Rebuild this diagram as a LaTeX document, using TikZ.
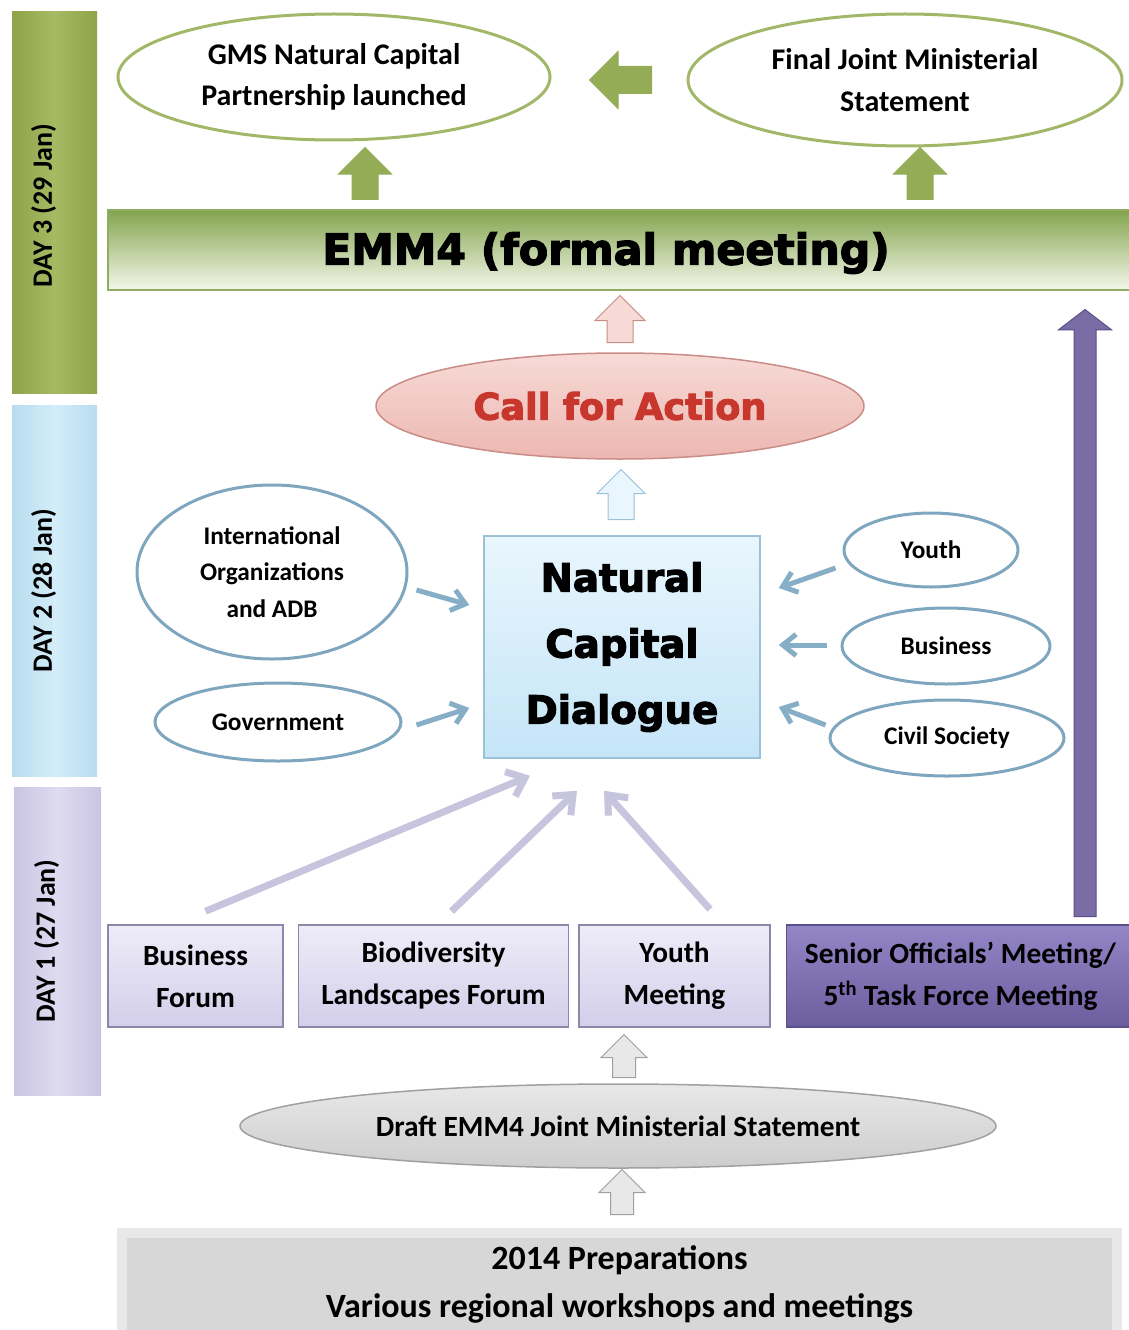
\documentclass[tikz,border=0pt]{standalone}
\usepackage{fontspec}
\setmainfont{Carlito}
\newfontfamily\heavy{DejaVu Sans}[BoldFeatures={FakeBold=3}]
\usetikzlibrary{positioning,calc,arrows.meta,shapes.geometric,shapes.arrows}

\definecolor{olivebar}{HTML}{A6BA63}
\definecolor{olivedark}{HTML}{8FA34B}
\definecolor{ellgreen}{HTML}{A2B868}
\definecolor{arrgreen}{HTML}{93AC55}
\definecolor{emmtop}{HTML}{83A44E}
\definecolor{emmbot}{HTML}{F4F7EA}
\definecolor{emmline}{HTML}{8FAE63}
\definecolor{pinktop}{HTML}{F7DAD6}
\definecolor{pinkbot}{HTML}{EDB7B1}
\definecolor{pinkline}{HTML}{C98C86}
\definecolor{callred}{HTML}{C8372D}
\definecolor{bluetop}{HTML}{E9F6FD}
\definecolor{bluebot}{HTML}{C4E5F7}
\definecolor{blueline}{HTML}{9CC0D6}
\definecolor{bluearr}{HTML}{86AEC7}
\definecolor{ellblue}{HTML}{7FA6BF}
\definecolor{daytwo}{HTML}{D3EDF9}
\definecolor{daytwodark}{HTML}{B8DCEE}
\definecolor{dayone}{HTML}{DFDBF1}
\definecolor{dayonedark}{HTML}{C9C4E2}
\definecolor{lavtop}{HTML}{EEECF8}
\definecolor{lavbot}{HTML}{D3CEEA}
\definecolor{lavline}{HTML}{8C87A8}
\definecolor{lavarr}{HTML}{C7C4DE}
\definecolor{purtop}{HTML}{9386C6}
\definecolor{purbot}{HTML}{6C5E9E}
\definecolor{purarr}{HTML}{7A6CA4}
\definecolor{purline}{HTML}{5B5088}
\definecolor{graytop}{HTML}{E8E8E8}
\definecolor{graybot}{HTML}{CDCDCD}
\definecolor{grayline}{HTML}{A0A0A0}

\def\px{0.75pt}

\begin{document}
\begin{tikzpicture}[x=\px, y=-\px,
	every node/.style={font=\bfseries},
	daybar/.style={rectangle, minimum width=85*\px, inner sep=0},
	daylabel/.style={rotate=90, font=\fontsize{21}{25}\selectfont\bfseries},
	greenell/.style={ellipse, draw=ellgreen, line width=3*\px, fill=white, align=center, inner sep=0, font=\fontsize{22.5}{31}\selectfont\bfseries},
	blueell/.style={ellipse, draw=ellblue, line width=3*\px, fill=white, align=center, inner sep=0, font=\fontsize{19}{27.5}\selectfont\bfseries},
	dbox/.style={rectangle, draw=lavline, line width=1.5*\px, top color=lavtop, bottom color=lavbot, align=center, minimum height=102*\px, inner sep=0, font=\fontsize{22}{31.5}\selectfont\bfseries},
	blockarr/.style={single arrow, anchor=tail, inner xsep=0, line width=1*\px},
	bluearrow/.style={draw=bluearr, line width=5*\px, -{Straight Barb[length=10pt, width=16pt]}},
	lavarrow/.style={draw=lavarr, line width=7*\px, -{Straight Barb[length=12pt, width=20pt]}},
	]
	\useasboundingbox (0,0) rectangle (1128,1330);
	
	\node[daybar, minimum height=381*\px, left color=olivedark, right color=olivedark, middle color=olivebar] (day3) at (54.5,202.5) {};
	\node[daybar, minimum height=371*\px, left color=daytwodark, right color=daytwodark, middle color=daytwo] (day2) at (54.5,590.5) {};
	\node[daybar, minimum height=308*\px, minimum width=87*\px, left color=dayonedark, right color=dayonedark, middle color=dayone] (day1) at (57.5,941) {};
	\node[daylabel] at ($(day3)+(-11,3)$) {DAY 3 (29 Jan)};
	\node[daylabel] at ($(day2)+(-11,0)$) {DAY 2 (28 Jan)};
	\node[daylabel] at ($(day1)+(-11,0)$) {DAY 1 (27 Jan)};
	
	\node[greenell, minimum width=432*\px, minimum height=126*\px] (gms) at (334,77) {GMS Natural Capital\\Partnership launched};
	\node[greenell, minimum width=434*\px, minimum height=132*\px] (final) at (905,80) {Final Joint Ministerial\\Statement};
	\node[blockarr, rotate=180, fill=arrgreen, draw=arrgreen, minimum height=62*\px, inner ysep=13*\px, single arrow head extend=15*\px] (gleft) at (652,80) {};
	
	\node[rectangle, draw=emmline, line width=2*\px, top color=emmtop, bottom color=emmbot, minimum width=1027*\px, minimum height=80*\px, inner sep=0] (emm) at (621.5,250) {};
	\node[font=\heavy\fontsize{32}{36}\selectfont\bfseries] (emmtext) at (606,253) {EMM4 (formal meeting)};
	\node[blockarr, rotate=90, fill=arrgreen, draw=arrgreen, minimum height=52*\px, inner ysep=12.5*\px, single arrow head extend=13.5*\px] (gup1) at (365,200) {};
	\node[blockarr, rotate=90, fill=arrgreen, draw=arrgreen, minimum height=52*\px, inner ysep=12.5*\px, single arrow head extend=13.5*\px] (gup2) at (920,200) {};
	
	\node[blockarr, rotate=90, fill=pinktop, draw=pinkline, minimum height=47*\px, inner ysep=12.5*\px, single arrow head extend=12*\px] (pup) at (620,343) {};
	\node[ellipse, draw=pinkline, line width=1.5*\px, top color=pinktop, bottom color=pinkbot, minimum width=488*\px, minimum height=106*\px, inner sep=0, text=callred, font=\heavy\fontsize{27.5}{30}\selectfont\bfseries] (call) at (620,406) {Call for Action};
	\node[blockarr, rotate=90, fill=bluetop, draw=blueline, minimum height=50*\px, inner ysep=12.5*\px, single arrow head extend=11*\px] (bup) at (621,520) {};
	
	\node[rectangle, draw=blueline, line width=1.5*\px, top color=bluetop, bottom color=bluebot, minimum width=276*\px, minimum height=222*\px, inner sep=0, align=center, font=\heavy\fontsize{29}{49.5}\selectfont\bfseries] (ncd) at (622,647) {Natural\\Capital\\Dialogue};
	
	\node[blueell, minimum width=270*\px, minimum height=174*\px] (intorg) at (272,572) {International\\Organizations\\and ADB};
	\node[blueell, minimum width=246*\px, minimum height=78*\px] (gov) at (278,722) {Government};
	\node[blueell, minimum width=174*\px, minimum height=74*\px] (youth) at (931,550) {Youth};
	\node[blueell, minimum width=208*\px, minimum height=76*\px] (bus) at (946,646) {Business};
	\node[blueell, minimum width=234*\px, minimum height=76*\px] (civ) at (947,738) {Civil Society};
	
	\draw[bluearrow] ($(intorg.east)+(8,18)$) -- ($(ncd.west)+(-14,-42)$);
	\draw[bluearrow] ($(gov.east)+(14,3)$) -- ($(ncd.west)+(-14,61)$);
	\draw[bluearrow] ($(youth.west)+(-7,18)$) -- ($(ncd.east)+(18,-59)$);
	\draw[bluearrow] ($(bus.west)+(-14,-1)$) -- ($(ncd.east)+(18,-2)$);
	\draw[bluearrow] ($(civ.west)+(-3,-13)$) -- ($(ncd.east)+(18,60)$);
	
	\node[dbox, minimum width=175*\px] (bf) at (195.5,976) {Business\\Forum};
	\node[dbox, minimum width=270*\px, right=10.5pt of bf] (blf) {Biodiversity\\Landscapes Forum};
	\node[dbox, minimum width=191*\px, right=6.75pt of blf] (ym) {Youth\\Meeting};
	\node[dbox, minimum width=348*\px, right=11.25pt of ym, draw=purline, top color=purtop, bottom color=purbot] (som) {Senior Officials’ Meeting/\\5\textsuperscript{th} Task Force Meeting};
	
	\draw[lavarrow] ($(bf.north)+(10,-13)$) -- ($(ncd.south)+(-92,17)$);
	\draw[lavarrow] ($(blf.north)+(18,-13)$) -- ($(ncd.south)+(-45,32)$);
	\draw[lavarrow] ($(ym.north)+(35.5,-15)$) -- ($(ncd.south)+(-18,32)$);
	
	\node[blockarr, rotate=90, fill=purarr, draw=purline, minimum height=607*\px, inner ysep=10.5*\px, single arrow head extend=15.5*\px, single arrow tip angle=105] (soarr) at (1085,917) {};
	
	\node[blockarr, rotate=90, fill=graytop, draw=grayline, minimum height=43*\px, inner ysep=11*\px, single arrow head extend=11.5*\px] (gyup1) at (624,1078) {};
	\node[ellipse, draw=grayline, line width=1.5*\px, top color=graytop, bottom color=graybot, minimum width=756*\px, minimum height=84*\px, inner sep=0, font=\fontsize{22}{26}\selectfont\bfseries] (draft) at (618,1126) {Draft EMM4 Joint Ministerial Statement};
	\node[blockarr, rotate=90, fill=graytop, draw=grayline, minimum height=45*\px, inner ysep=11*\px, single arrow head extend=11.5*\px] (gyup2) at (622,1215) {};
	
	\node[rectangle, draw=graytop, line width=10*\px, fill=graybot!80!white, minimum width=995*\px, minimum height=102*\px, inner sep=0, align=center, font=\fontsize{25.5}{36}\selectfont\bfseries] (prep) at (619.5,1284) {2014 Preparations\\Various regional workshops and meetings};
\end{tikzpicture}
\end{document}
